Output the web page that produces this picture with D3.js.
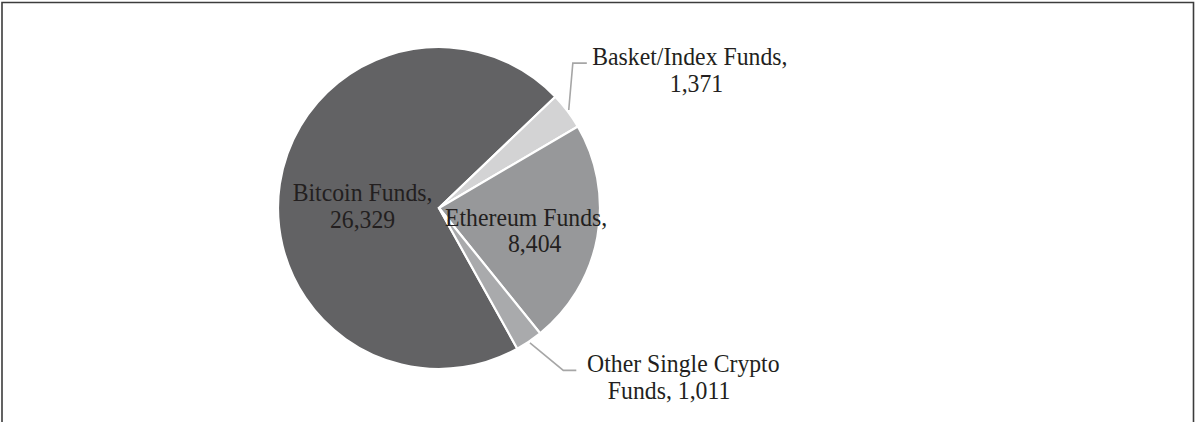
<!DOCTYPE html>
<html>
<head>
<meta charset="utf-8">
<script src="https://cdn.jsdelivr.net/npm/d3@7"></script>
<style>
  body { margin: 0; background: #fff; }
  svg { display: block; }
  text { font-family: "Liberation Serif", "Times New Roman", serif; fill: #231f20; }
</style>
</head>
<body>
<svg id="chart"></svg>
<script>
const categories = ["Bitcoin Funds", "Basket/Index Funds", "Ethereum Funds", "Other Single Crypto Funds"];
const values = [26329, 1371, 8404, 1011];
const labelLines = [
    ["Bitcoin Funds,", "26,329"],
    ["Basket/Index Funds,", "1,371"],
    ["Ethereum Funds,", "8,404"],
    ["Other Single Crypto", "Funds, 1,011"]
];
const colors = ["#626264", "#d3d3d4", "#97989a", "#a9aaac"];

function drawPie() {
    const width = 1195, height = 422;
    const svg = d3.select("#chart").attr("width", width).attr("height", height);

    // рамка без нижней линии
    svg.append("path")
        .attr("d", `M2,${height + 5} L2,2.5 L1193.5,2.5 L1193.5,${height + 5}`)
        .attr("fill", "none")
        .attr("stroke", "#3c3c3c")
        .attr("stroke-width", 1.6);

    const cx = 439, cy = 208, r = 161;
    const start = -209.1 * Math.PI / 180;

    const data = categories.map((c, i) => ({ name: c, value: values[i], lines: labelLines[i], color: colors[i] }));

    const pie = d3.pie().sort(null).value(d => d.value)
        .startAngle(start).endAngle(start + 2 * Math.PI);
    const arcs = pie(data);

    const arc = d3.arc().innerRadius(0).outerRadius(r);
    const g = svg.append("g").attr("transform", `translate(${cx},${cy})`);

    g.selectAll("path.slice")
        .data(arcs)
        .enter()
        .append("path")
        .attr("class", "slice")
        .attr("d", arc)
        .attr("fill", d => d.data.color)
        .attr("stroke", "#fff")
        .attr("stroke-width", 2.2)
        .attr("stroke-linejoin", "miter");

    const fontSize = 25;
    const lineH = 26.5;

    function addLabel(x, y, lines, anchor, dxs) {
        const t = g.append("text")
            .attr("transform", `translate(${x},${y}) scale(0.95,1)`)
            .attr("font-size", fontSize)
            .attr("text-anchor", anchor);
        lines.forEach((ln, i) => {
            t.append("tspan")
                .attr("x", dxs ? dxs[i] : 0)
                .attr("y", i * lineH)
                .text(ln);
        });
    }

    const mid = d => (d.startAngle + d.endAngle) / 2;
    const pt = (a, rad) => [Math.sin(a) * rad, -Math.cos(a) * rad];

    // подписи внутри
    const bit = arcs[0];
    const pB = pt(mid(bit), r * 0.48);
    addLabel(pB[0], pB[1] + 5, bit.data.lines, "middle");

    const eth = arcs[2];
    const pE = pt(mid(eth), r * 0.58);
    addLabel(pE[0], pE[1] + 1, eth.data.lines, "middle", [-5, 4]);

    // выноски
    const leader = d3.line();
    const outside = [
        { d: arcs[1], r1: 1.01, r2: 1.225, rot: -0.178, hx: 14, textDx: 103, lines: [0, 7], ty: 2 },
        { d: arcs[3], r1: 1.01, r2: 1.27, rot: -0.06, hx: 13, textDx: 107, lines: [0, -15], ty: 2 }
    ];
    outside.forEach(o => {
        const a = mid(o.d);
        const p1 = pt(a, r * o.r1);
        const p2 = pt(a + o.rot, r * o.r2);
        const p3 = [p2[0] + o.hx, p2[1]];
        g.append("path")
            .attr("d", leader([p1, p2, p3]))
            .attr("fill", "none")
            .attr("stroke", "#a6a6a6")
            .attr("stroke-width", 1.6);
        addLabel(p3[0] + o.textDx, p2[1] + o.ty, o.d.data.lines, "middle", o.lines);
    });
}

drawPie();
</script>
</body>
</html>
